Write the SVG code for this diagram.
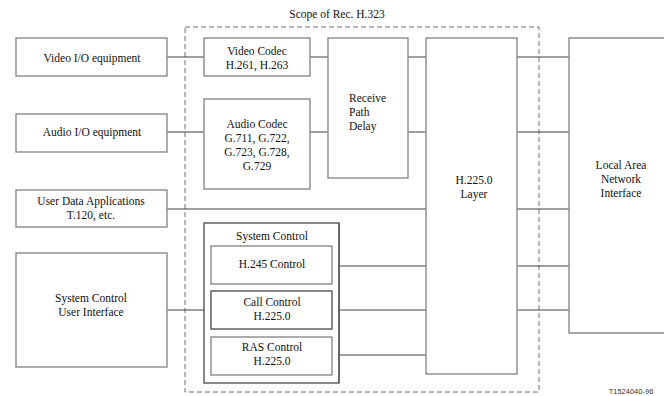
<svg xmlns="http://www.w3.org/2000/svg" width="664" height="396" viewBox="0 0 664 396">
<style>
.box{fill:#fff;stroke:#8a8a8a;stroke-width:1.4}
.in{fill:none;stroke:#555;stroke-width:1.2}
.ln{fill:none;stroke:#404040;stroke-width:1}
.scope{fill:none;stroke:#707070;stroke-width:1;stroke-dasharray:5,3}
.t{font-size:11.5px;fill:#111;text-anchor:middle}
.l{text-anchor:start}
.id{font-size:7.5px;fill:#333}
</style>
<rect width="664" height="396" fill="#fff"/>
<g font-family="'Liberation Serif', 'Times New Roman', 'DejaVu Serif', serif">
<g id="scope">
<rect class="scope" x="185" y="27" width="354" height="365"/>
<text class="t" x="337" y="18">Scope of Rec. H.323</text>
</g>
<g id="connectors">
<line class="ln" x1="167" y1="57" x2="204" y2="57"/>
<line class="ln" x1="310" y1="57" x2="328" y2="57"/>
<line class="ln" x1="408" y1="57" x2="426" y2="57"/>
<line class="ln" x1="517" y1="57" x2="569" y2="57"/>
<line class="ln" x1="167" y1="132" x2="204" y2="132"/>
<line class="ln" x1="310" y1="132" x2="328" y2="132"/>
<line class="ln" x1="408" y1="132" x2="426" y2="132"/>
<line class="ln" x1="517" y1="132" x2="569" y2="132"/>
<line class="ln" x1="167" y1="209" x2="426" y2="209"/>
<line class="ln" x1="517" y1="209" x2="569" y2="209"/>
<line class="ln" x1="332" y1="266" x2="426" y2="266"/>
<line class="ln" x1="517" y1="266" x2="569" y2="266"/>
<line class="ln" x1="167" y1="310" x2="211" y2="310"/>
<line class="ln" x1="332" y1="310" x2="426" y2="310"/>
<line class="ln" x1="517" y1="310" x2="569" y2="310"/>
<line class="ln" x1="332" y1="355" x2="426" y2="355" stroke="#777"/>
</g>
<g id="video-io">
<rect class="box" x="16" y="38" width="151" height="38"/>
<text class="t" x="92" y="62">Video I/O equipment</text>
</g>
<g id="audio-io">
<rect class="box" x="16" y="114" width="151" height="38"/>
<text class="t" x="92" y="136">Audio I/O equipment</text>
</g>
<g id="user-data">
<rect class="box" x="16" y="190" width="151" height="37"/>
<text class="t" x="91" y="205">User Data Applications</text>
<text class="t" x="91" y="219">T.120, etc.</text>
</g>
<g id="sc-ui">
<rect class="box" x="16" y="253" width="151" height="114"/>
<text class="t" x="91" y="302">System Control</text>
<text class="t" x="91" y="316">User Interface</text>
</g>
<g id="video-codec">
<rect class="box" x="204" y="38" width="106" height="38"/>
<text class="t" x="257" y="55">Video Codec</text>
<text class="t" x="257" y="69">H.261, H.263</text>
</g>
<g id="audio-codec">
<rect class="box" x="204" y="99" width="106" height="90"/>
<text class="t" x="257" y="128">Audio Codec</text>
<text class="t" x="257" y="142">G.711, G.722,</text>
<text class="t" x="257" y="156">G.723, G.728,</text>
<text class="t" x="257" y="170">G.729</text>
</g>
<g id="system-control">
<rect class="box" x="204" y="223" width="135" height="160" style="stroke:#555"/>
<text class="t" x="272" y="240">System Control</text>
</g>
<g id="h245">
<rect class="box" x="211" y="246" width="121" height="38"/>
<text class="t" x="272" y="268">H.245 Control</text>
</g>
<g id="call-control">
<rect class="box" x="211" y="291" width="121" height="38" style="stroke:#555"/>
<text class="t" x="272" y="306">Call Control</text>
<text class="t" x="272" y="320">H.225.0</text>
</g>
<g id="ras-control">
<rect class="box" x="211" y="337" width="121" height="38"/>
<text class="t" x="272" y="351">RAS Control</text>
<text class="t" x="272" y="365">H.225.0</text>
</g>
<line class="in" x1="339" y1="223" x2="339" y2="383"/>
<g id="receive-path-delay">
<rect class="box" x="328" y="38" width="80" height="140"/>
<text class="t l" x="349" y="102">Receive</text>
<text class="t l" x="349" y="116">Path</text>
<text class="t l" x="349" y="130">Delay</text>
</g>
<g id="h2250-layer">
<rect class="box" x="426" y="38" width="91" height="336"/>
<text class="t" x="474" y="184">H.225.0</text>
<text class="t" x="474" y="198">Layer</text>
</g>
<g id="lan">
<path class="box" d="M664 38 H569 V333 H664"/>
<text class="t" x="621" y="169">Local Area</text>
<text class="t" x="621" y="183">Network</text>
<text class="t" x="621" y="197">Interface</text>
</g>
</g>
<text class="id" x="631" y="394" text-anchor="middle" font-family="'Liberation Sans', Arial, sans-serif">T1524040-96</text>
</svg>
